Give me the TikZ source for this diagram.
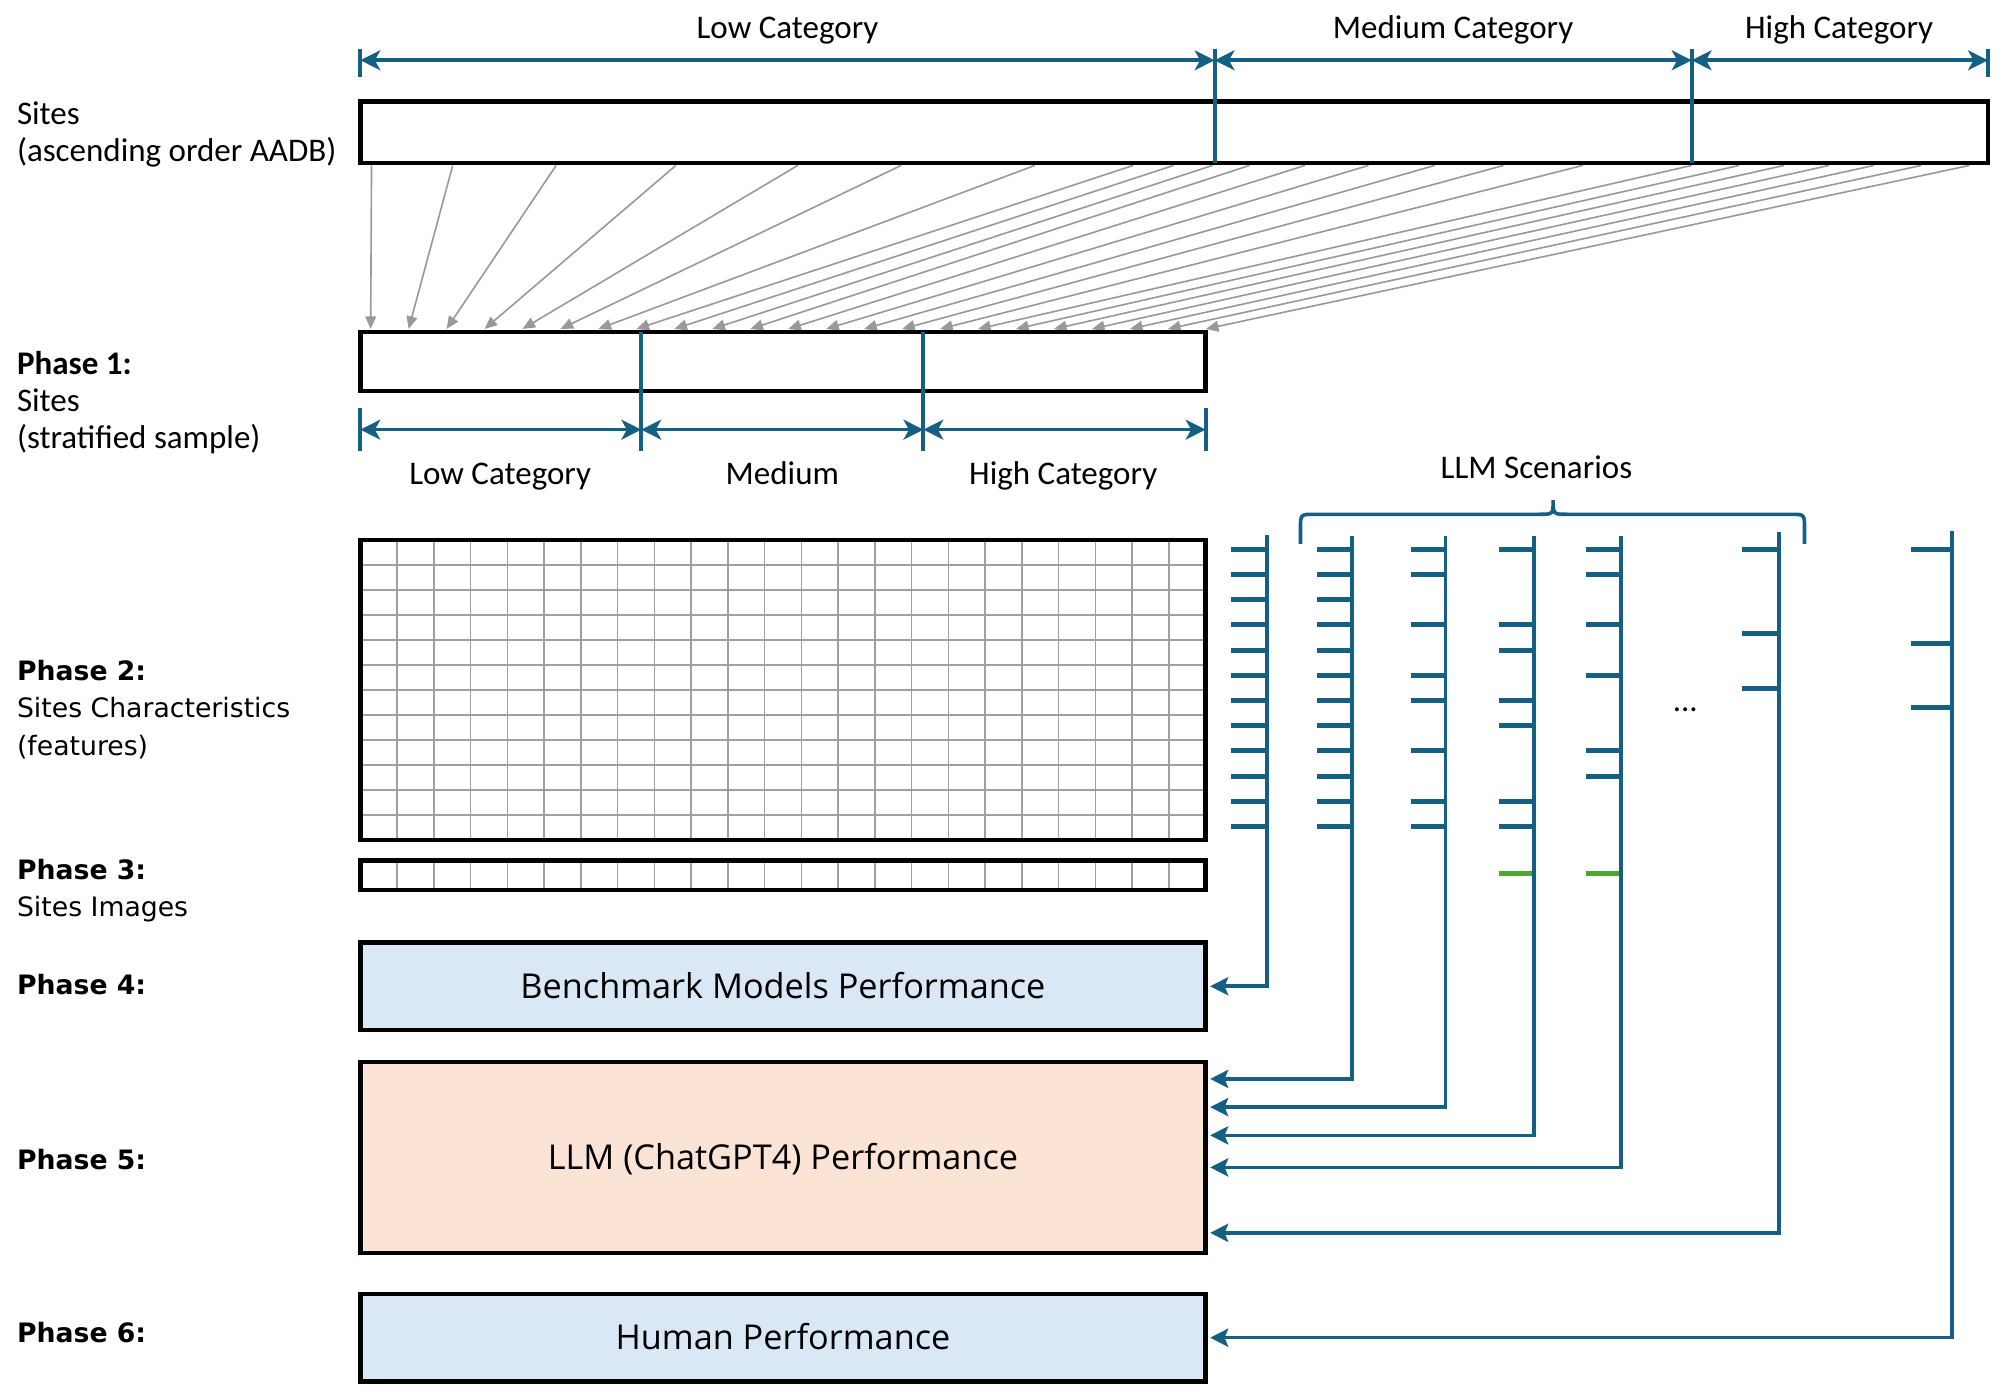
\documentclass[tikz,border=0pt]{standalone}
\usepackage{fontspec}
\setmainfont{Open Sans}
\newfontfamily\topfont{Carlito}
\newfontfamily\phasefont{DejaVu Sans}
\usetikzlibrary{arrows.meta,fit,calc}
\definecolor{dimblue}{HTML}{156082}
\definecolor{scgreen}{HTML}{4EA72E}
\definecolor{boxblue}{HTML}{DAE7F5}
\definecolor{boxpeach}{HTML}{FBE3D6}
\definecolor{fangray}{HTML}{999999}
\definecolor{gridgray}{HTML}{A0A0A0}
\tikzset{
  toplbl/.style={font=\topfont\fontsize{18.3}{22}\selectfont, inner sep=0pt, anchor=mid},
  leftlbl/.style={font=\topfont\fontsize{18.3}{22}\selectfont, inner sep=0pt, anchor=mid west},
  phlbl/.style={font=\phasefont\fontsize{14.8}{18}\selectfont, inner sep=0pt, anchor=mid west},
  boxtxt/.style={font=\fontsize{19}{23}\selectfont, inner sep=0pt, anchor=mid},
  blackbox/.style={draw=black, line width=2.5pt, inner sep=0pt},
  dimline/.style={draw=dimblue, line width=2pt, {Stealth[length=11pt,width=11pt,inset=3pt]}-{Stealth[length=11pt,width=11pt,inset=3pt]}},
  dimtick/.style={draw=dimblue, line width=2.2pt},
  fanarrow/.style={draw=fangray, line width=0.9pt, -{Triangle[length=7pt,width=6pt]}},
  gridln/.style={draw=gridgray, line width=0.8pt},
  sccol/.style={draw=dimblue, line width=2pt, -{Stealth[length=10pt,width=10pt,inset=2pt]}},
  sctick/.style={draw=dimblue, line width=2.8pt},
  grtick/.style={draw=scgreen, line width=2.8pt},
  bracestyle/.style={draw=dimblue, line width=2pt},
}
\begin{document}
\begin{tikzpicture}[x=0.025cm, y=-0.025cm]
\useasboundingbox (0,0) rectangle (1568,1088);

% ---------- fan arrows (sites -> phase 1) ----------
\foreach \sx [count=\i from 0] in {289.7,353,433.6,527,622,702.6,806.8,883.5,915,945.4,974.2,1017.5,1067,1118.6,1172.3,1234,1319,1356,1391,1426,1461,1498,1535.5}{
  \coordinate (fs\i) at (\sx,129);
  \coordinate (ft\i) at ({289+29.6*\i},256.5);
  \draw[fanarrow] (fs\i) -- (ft\i);
}

% ---------- top: sites (ascending order) ----------
\node[blackbox, fill=white, fit={(281,79) (1550,127)}] (sites) {};
\coordinate (tL) at (281,47);
\coordinate (tM) at (947,47);
\coordinate (tH) at (1319,47);
\coordinate (tR) at (1550,47);
\draw[dimtick] (281,38) -- (281,60);
\draw[dimtick] (1550,38) -- (1550,60);
\draw[dimtick] (947,38) -- (947,127);
\draw[dimtick] (1319,38) -- (1319,127);
\draw[dimline] (tL) -- (tM);
\draw[dimline] (tM) -- (tH);
\draw[dimline] (tH) -- (tR);
\node[toplbl] (lowtop) at (614,26) {Low Category};
\node[toplbl] (medtop) at (1133,26) {Medium Category};
\node[toplbl] (hightop) at (1434,26) {High Category};

\node[leftlbl] (l0a) at (13,93) {Sites};
\node[leftlbl] (l0b) at (13,122) {(ascending order AADB)};

% ---------- phase 1 ----------
\node[blackbox, fill=white, fit={(281,259) (940,305)}] (p1) {};
\draw[dimtick] (500,259) -- (500,352);
\draw[dimtick] (720,259) -- (720,352);
\draw[dimtick] (281,318) -- (281,352);
\draw[dimtick] (940,318) -- (940,352);
\coordinate (bL) at (281,335);
\coordinate (bM) at (500,335);
\coordinate (bH) at (720,335);
\coordinate (bR) at (940,335);
\draw[dimline] (bL) -- (bM);
\draw[dimline] (bM) -- (bH);
\draw[dimline] (bH) -- (bR);
\node[toplbl] (lowbot) at (390,374) {Low Category};
\node[toplbl] (medbot) at (610,374) {Medium};
\node[toplbl] (highbot) at (829,374) {High Category};

\node[leftlbl] (l1a) at (13,288) {\bfseries Phase 1:};
\node[leftlbl] (l1b) at (13,317) {Sites};
\node[leftlbl] (l1c) at (13,346) {(stratified sample)};

% ---------- phase 2 grid ----------
\foreach \i in {1,...,22}{
  \draw[gridln] ({281+\i*659/23},421) -- ({281+\i*659/23},655);
  \draw[gridln] ({281+\i*659/23},671) -- ({281+\i*659/23},694);
}
\foreach \j in {1,...,11}{
  \draw[gridln] (281,{421+\j*234/12}) -- (940,{421+\j*234/12});
}
\node[blackbox, fit={(281,421) (940,655)}] (p2) {};
\node[blackbox, fit={(281,671) (940,694)}] (p3) {};

\node[phlbl] (l2a) at (13,527) {\bfseries Phase 2:};
\node[phlbl] (l2b) at (13,556) {Sites Characteristics};
\node[phlbl] (l2c) at (13,585) {(features)};
\node[phlbl] (l3a) at (13,682) {\bfseries Phase 3:};
\node[phlbl] (l3b) at (13,711) {Sites Images};

% ---------- phases 4-6 boxes ----------
\node[blackbox, fill=boxblue, fit={(281,735) (940,803)}] (p4) {};
\node[boxtxt] (p4t) at ($(p4.center)+(0,5.5)$) {Benchmark Models Performance};
\node[blackbox, fill=boxpeach, fit={(281,828) (940,977)}] (p5) {};
\node[boxtxt] (p5t) at ($(p5.center)+(0,5.5)$) {LLM (ChatGPT4) Performance};
\node[blackbox, fill=boxblue, fit={(281,1009) (940,1077)}] (p6) {};
\node[boxtxt] (p6t) at ($(p6.center)+(0,5.5)$) {Human Performance};

\node[phlbl] (l4) at (13,772) {\bfseries Phase 4:};
\node[phlbl] (l5) at (13,908) {\bfseries Phase 5:};
\node[phlbl] (l6) at (13,1043) {\bfseries Phase 6:};

% ---------- LLM scenarios ----------
\node[toplbl] (llm) at (1198,369) {LLM Scenarios};
\draw[bracestyle] (1014,424) -- (1014,412) .. controls (1014,401) .. (1025,401) -- (1200,401)
  .. controls (1211,401) .. (1211,390) .. controls (1211,401) .. (1222,401) -- (1396,401)
  .. controls (1407,401) .. (1407,412) -- (1407,424);
\node[toplbl] (dots) at (1314,551) {...};

% column tops and arrow targets
\coordinate (cA) at (988,417);
\coordinate (cB) at (1054,418);
\coordinate (cC) at (1127,418);
\coordinate (cD) at (1196,418);
\coordinate (cE) at (1264,418);
\coordinate (cF) at (1387,415);
\coordinate (cG) at (1522,414);
\coordinate (eA) at ($(p4.east)+(1.8,0)$);
\coordinate (eB) at ($(p5.north east)+(1.8,15)$);
\coordinate (eC) at ($(p5.north east)+(1.8,37)$);
\coordinate (eD) at ($(p5.north east)+(1.8,59)$);
\coordinate (eE) at ($(p5.north east)+(1.8,84)$);
\coordinate (eF) at ($(p5.north east)+(1.8,135)$);
\coordinate (eG) at ($(p6.east)+(1.8,0)$);

% ticks
\foreach \r in {0,...,11}{
  \draw[sctick] (960,{428.3+19.65*\r}) -- (988,{428.3+19.65*\r});
  \draw[sctick] (1027,{428.3+19.65*\r}) -- (1054,{428.3+19.65*\r});
}
\foreach \r in {0,1,3,5,6,8,10,11}{
  \draw[sctick] (1100,{428.3+19.65*\r}) -- (1127,{428.3+19.65*\r});
}
\foreach \r in {0,3,4,6,7,10,11}{
  \draw[sctick] (1169,{428.3+19.65*\r}) -- (1196,{428.3+19.65*\r});
}
\foreach \r in {0,1,3,5,8,9}{
  \draw[sctick] (1237,{428.3+19.65*\r}) -- (1264,{428.3+19.65*\r});
}
\foreach \yy in {428.3,494,537}{
  \draw[sctick] (1358,\yy) -- (1387,\yy);
}
\foreach \yy in {428.3,502,552}{
  \draw[sctick] (1490,\yy) -- (1522,\yy);
}
\draw[grtick] (1169,681) -- (1196,681);
\draw[grtick] (1237,681) -- (1264,681);

% connectors
\draw[sccol] (cA) |- (eA);
\draw[sccol] (cB) |- (eB);
\draw[sccol] (cC) |- (eC);
\draw[sccol] (cD) |- (eD);
\draw[sccol] (cE) |- (eE);
\draw[sccol] (cF) |- (eF);
\draw[sccol] (cG) |- (eG);
\end{tikzpicture}
\end{document}
